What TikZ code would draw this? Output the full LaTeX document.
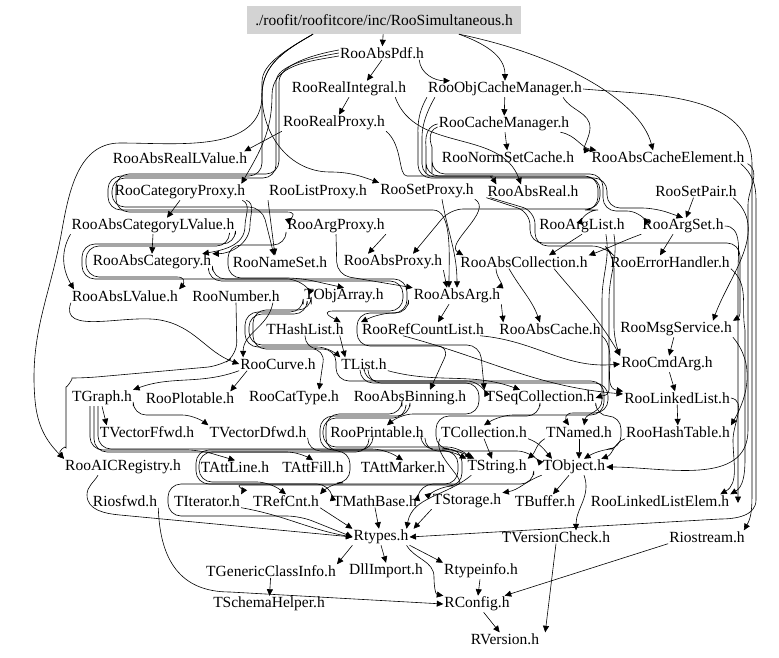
\documentclass[tikz,border=0pt]{standalone}
\usepackage{fontspec}
\newfontfamily\lblfont{Liberation Serif}
\usetikzlibrary{arrows.meta}
\definecolor{boxgray}{RGB}{211,211,211}
\begin{document}
\begin{tikzpicture}[x=1pt,y=-1pt,
  lbl/.style={font=\lblfont\fontsize{15.5}{17}\selectfont, inner sep=1pt, text=black},
  rootbox/.style={lbl, fill=boxgray, minimum width=274pt, minimum height=28pt, inner sep=0pt},
  dep/.style={line width=0.6pt, -{Triangle[length=6.5pt,width=6pt]}},
  rc/.style={rounded corners=13pt}]
\useasboundingbox[fill=white] (0,0) rectangle (779,658);
% ---------- nodes ----------
\node[rootbox] (root) at (384,20) {./roofit/roofitcore/inc/RooSimultaneous.h};
\node[lbl] (pdf) at (382,53) {RooAbsPdf.h};
\node[lbl] (rint) at (349,89) {RooRealIntegral.h};
\node[lbl] (ocm) at (505,89) {RooObjCacheManager.h};
\node[lbl] (rrp) at (334,123) {RooRealProxy.h};
\node[lbl] (cm) at (504,124) {RooCacheManager.h};
\node[lbl] (arlv) at (180,158) {RooAbsRealLValue.h};
\node[lbl] (nsc) at (508,157) {RooNormSetCache.h};
\node[lbl] (ace) at (668,157) {RooAbsCacheElement.h};
\node[lbl] (catp) at (180,192) {RooCategoryProxy.h};
\node[lbl] (lp) at (318,192) {RooListProxy.h};
\node[lbl] (sp) at (427,191) {RooSetProxy.h};
\node[lbl] (ar) at (533,191) {RooAbsReal.h};
\node[lbl] (spair) at (696,191) {RooSetPair.h};
\node[lbl] (aclv) at (153,226) {RooAbsCategoryLValue.h};
\node[lbl] (argp) at (336,226) {RooArgProxy.h};
\node[lbl] (al) at (582,226) {RooArgList.h};
\node[lbl] (as) at (683,226) {RooArgSet.h};
\node[lbl] (acat) at (152,262) {RooAbsCategory.h};
\node[lbl] (ns) at (280,262) {RooNameSet.h};
\node[lbl] (aprox) at (393,262) {RooAbsProxy.h};
\node[lbl] (acoll) at (524,262) {RooAbsCollection.h};
\node[lbl] (eh) at (670,262) {RooErrorHandler.h};
\node[lbl] (alv) at (125,296) {RooAbsLValue.h};
\node[lbl] (num) at (236,296) {RooNumber.h};
\node[lbl] (toa) at (344,296) {TObjArray.h};
\node[lbl] (aarg) at (457,296) {RooAbsArg.h};
\node[lbl] (hl) at (305,329) {THashList.h};
\node[lbl] (rcl) at (423,329) {RooRefCountList.h};
\node[lbl] (acache) at (550,329) {RooAbsCache.h};
\node[lbl] (msg) at (676,329) {RooMsgService.h};
\node[lbl] (curve) at (278,364) {RooCurve.h};
\node[lbl] (tlist) at (364,364) {TList.h};
\node[lbl] (cmd) at (667,364) {RooCmdArg.h};
\node[lbl] (graph) at (102,398) {TGraph.h};
\node[lbl] (plot) at (190,398) {RooPlotable.h};
\node[lbl] (ct) at (294,398) {RooCatType.h};
\node[lbl] (bin) at (410,398) {RooAbsBinning.h};
\node[lbl] (seq) at (540,398) {TSeqCollection.h};
\node[lbl] (ll) at (677,398) {RooLinkedList.h};
\node[lbl] (vf) at (147,432) {TVectorFfwd.h};
\node[lbl] (vd) at (258,432) {TVectorDfwd.h};
\node[lbl] (prt) at (377,432) {RooPrintable.h};
\node[lbl] (coll) at (484,432) {TCollection.h};
\node[lbl] (named) at (579,432) {TNamed.h};
\node[lbl] (ht) at (678,432) {RooHashTable.h};
\node[lbl] (aic) at (123,467) {RooAICRegistry.h};
\node[lbl] (line) at (235,467) {TAttLine.h};
\node[lbl] (fill) at (313,467) {TAttFill.h};
\node[lbl] (marker) at (403,467) {TAttMarker.h};
\node[lbl] (str) at (497,467) {TString.h};
\node[lbl] (obj) at (574,467) {TObject.h};
\node[lbl] (rfwd) at (125,501) {Riosfwd.h};
\node[lbl] (iter) at (207,501) {TIterator.h};
\node[lbl] (rc) at (286,501) {TRefCnt.h};
\node[lbl] (mb) at (375,501) {TMathBase.h};
\node[lbl] (stor) at (467,501) {TStorage.h};
\node[lbl] (buf) at (545,501) {TBuffer.h};
\node[lbl] (lle) at (660,501) {RooLinkedListElem.h};
\node[lbl] (rt) at (381,537) {Rtypes.h};
\node[lbl] (vc) at (556,537) {TVersionCheck.h};
\node[lbl] (rio) at (707,537) {Riostream.h};
\node[lbl] (gci) at (271,571) {TGenericClassInfo.h};
\node[lbl] (dll) at (386,571) {DllImport.h};
\node[lbl] (rti) at (481,571) {Rtypeinfo.h};
\node[lbl] (sh) at (269,604) {TSchemaHelper.h};
\node[lbl] (rcfg) at (477,604) {RConfig.h};
\node[lbl] (rv) at (505,639) {RVersion.h};
\coordinate (tip) at (738,503);
% ---------- top edges ----------
\draw[dep] (root) -- (pdf);
\draw[dep] ([xshift=75pt]root.south) to[out=-20,in=90] (ocm.north);
\draw[dep] ([xshift=75pt]root.south) .. controls (560,55) and (640,100) .. ([xshift=-15pt]ace.north);
\draw[dep] ([xshift=-71pt]root.south) to[out=-150,in=90] (262,95) to[out=-90,in=0] (120,143) to[out=180,in=80] (62,230) to[out=-100,in=95] (35,400) to[out=-85,in=135] (aic.north west);
\draw[dep] ([xshift=-71pt]root.south) to[out=-150,in=90] (262,95) to[out=-90,in=180] (330,172) to[out=0,in=160] (sp.north west);
\draw[dep] ([yshift=-3pt]pdf.west) to[out=190,in=90] (272,95) to[out=-90,in=60] ([xshift=-5pt]catp.north east);
\draw[dep] (pdf.south) -- ([xshift=18pt]rint.north);
\draw[dep] ([xshift=-6pt]pdf.south east) to[out=-85,in=180] ([xshift=-55pt]ocm.north);
\draw[dep] (rint.south) -- ([xshift=5pt]rrp.north);
\draw[dep] (rrp.south west) -- ([xshift=-4pt]arlv.north east);
\draw[dep,rc] (rrp.south east) to[out=-40,in=180] (420,176) -- (480,176) to[out=0,in=120] ([xshift=10pt]ar.north west);
\draw[dep] ([xshift=-12pt]rint.south east) to[out=-70,in=110] ([xshift=-12pt]ar.north);
\draw[dep] (ocm) -- (cm);
\draw[dep] (cm) -- (nsc);
\draw[dep] ([xshift=-20pt]ocm.south east) to[out=-60,in=90] (590,128) to[out=-90,in=180] (ace.north west);
\draw[dep] ([xshift=-10pt]cm.south east) to[out=-10,in=170] ([xshift=6pt]ace.north west);
\draw[dep] (ocm.east) to[out=-5,in=90] (752,165) -- (752,490) to[out=-90,in=60] ([xshift=-2pt]rio.north east);
\draw[dep] ([xshift=-5pt]ace.south east) to[out=-40,in=90] (756,200) -- (756,500) to[out=-90,in=0] (720,519) -- (rt.east);
\draw[dep] ([xshift=2pt]ace.south east) to[out=-30,in=90] (748,205) -- (748,430) to[out=-90,in=0] (obj.east);
\draw[dep] (spair) -- (as);
\draw[dep] ([xshift=-5pt]spair.south east) to[out=-40,in=70] ([xshift=-20pt]msg.north east);
\draw[dep] (as.east) to[out=0,in=90] (738,270) -- (tip);
% ---------- band around row 192 ----------
\draw[dep,rc] ([xshift=-71pt]root.south) to[out=-150,in=90] (262,95) -- (262,176) -- (108,176) -- (108,210) -- (420,210) to[out=0,in=90] ([xshift=-8pt]aarg.north);
\draw[dep,rc] (pdf.west) to[out=190,in=90] (276,95) |- (112,178) |- (262,207) -- ([xshift=-6pt]ns.north);
\draw[dep,rc] ([yshift=3pt]pdf.west) to[out=190,in=90] (279,95) |- (116,174) |- (300,212) -- ([xshift=6pt]argp.north west);
\draw[dep,rc] (cm.west) to[out=190,in=90] (426,160) |- (598,176) |- (585,210) -- (al.north);
\draw[dep,rc] ([yshift=-3pt]cm.west) to[out=200,in=90] (432,160) |- (603,174) |- (640,211) -- ([xshift=3pt]as.north west);
\draw[dep,rc] (ocm.south west) to[out=-120,in=90] (418,150) |- (607,178) |- (655,208) -- (as.north);
\draw[dep,rc] ([xshift=8pt]ocm.south west) to[out=-120,in=90] (422,150) |- (600,177) |- (450,209) -- ([xshift=20pt]aprox.north);
% ---------- band around RooArgList / RooArgSet ----------
\draw[dep,rc] (ar.south west) -- (530,212) -- (530,243) -- (740,243) -- (740,300) to[out=-90,in=30] (msg.north east);
\draw[dep,rc] ([xshift=4pt]ar.south west) -- (535,211) -- (535,246) -- (605,246) -- (614,256) -- (614,340) -- (cmd.north west);
% ---------- band around row 262 ----------
\draw[dep,rc] (aclv.south east) |- (82,244) |- (300,279) -- ([xshift=4pt]toa.north west);
\draw[dep,rc] ([xshift=-6pt]aclv.south east) |- (86,246) |- (190,277) -- (alv.north east);
\draw[dep] (aclv.south) -- (acat.north);
\draw[dep] (aclv.south west) to[out=-120,in=120] ([xshift=3pt]alv.north west);
\draw[dep,rc] (argp.south west) |- (228,245) |- (300,278) -- (toa.north);
\draw[dep] (catp.south) -- ([xshift=14pt]aclv.north);
\draw[dep] (catp.south east) to[out=-20,in=90] (250,225) to[out=-90,in=0] (acat.north east);
\draw[dep] ([xshift=-4pt]catp.south east) to[out=-25,in=90] (245,226) to[out=-90,in=10] ([xshift=-10pt]acat.north east);
% ---------- middle edges ----------
\draw[dep] (lp.south west) -- ([xshift=-5pt]ns.north);
\draw[dep] (argp.south east) -- ([xshift=-25pt]aprox.north);
\draw[dep,rc] (argp.south) -- (337,275) -- (aarg.north west);
\draw[dep] (aprox.south east) -- ([xshift=-10pt]aarg.north);
\draw[dep] ([xshift=15pt]sp.south) to[out=-80,in=90] (aarg.north);
\draw[dep] (sp.south east) to[out=-30,in=150] ([xshift=4pt]acoll.north west);
\draw[dep] (al.south) -- ([xshift=25pt]acoll.north);
\draw[dep] (as.south west) to[out=-160,in=20] (acoll.north east);
\draw[dep] ([xshift=-10pt]as.south) -- ([xshift=-10pt]eh.north);
\draw[dep] ([xshift=-28pt]acoll.south) to[out=-90,in=20] ([xshift=-5pt]aarg.north east);
\draw[dep] ([xshift=-15pt]acoll.south) to[out=-60,in=110] ([xshift=-10pt]acache.north);
\draw[dep] ([xshift=30pt]acoll.south) to[out=-50,in=120] (cmd.north west);
\draw[dep] ([xshift=-8pt]aarg.south) -- ([xshift=15pt]rcl.north);
\draw[dep] (aarg.south east) -- ([xshift=5pt]acache.north west);
\draw[dep] (msg) -- (cmd);
\draw[dep] (cmd) -- (ll);
\draw[dep] (ll) -- (ht);
\draw[dep] (msg.south east) to[out=-50,in=60] (ht.north east);
\draw[dep] (eh.south east) to[out=-40,in=100] (745,330) -- (745,460) to[out=-90,in=30] (lle.north east);
\draw[dep] (acache.south east) to[out=-40,in=170] (ll.north west);
\draw[dep] ([xshift=-20pt]al.south east) to[out=-80,in=90] (602,300) -- (602,400) to[out=-90,in=80] ([xshift=5pt]named.north);
\draw[dep] ([xshift=-12pt]al.south east) to[out=-80,in=90] (609,300) -- (609,390) to[out=-90,in=20] (seq.east);
\draw[dep] ([xshift=-5pt]rcl.south east) to[out=-5,in=185] (cmd.west);
\draw[dep] ([xshift=-20pt]rcl.south) to[out=-15,in=175] ([yshift=4pt]ll.west);
\draw[dep] (ll.east) to[out=-10,in=90] (733,440) to[out=-90,in=30] ([xshift=-10pt]lle.north east);
% ---------- bands around rows 296 / 329 / 364 ----------
\draw[dep,rc] (toa.south west) |- (245,312) |- (330,347) -- (tlist.north west);
\draw[dep,rc] ([xshift=4pt]toa.south west) |- (249,314) |- (480,345) -- (seq.north west);
\draw[dep,rc] ([xshift=8pt]toa.south west) |- (253,310) |- (325,349) -- ([xshift=25pt]ct.north);
\draw[dep,rc] ([xshift=-4pt]aarg.south west) |- (357,313) |- (450,346) -- ([xshift=20pt]bin.north);
\draw[dep,rc] (acat.south east) |- (407,279) |- (380,313) -- (rcl.north west);
\draw[dep,rc] ([xshift=-4pt]acat.south east) |- (403,281) |- (320,311) -- ([xshift=-4pt]hl.north east);
\draw[dep,rc] (hl.south) |- (336,349) |- (480,381) -- (seq.north west);
\draw[dep] ([xshift=-5pt]hl.south east) -- ([xshift=5pt]tlist.north west);
\draw[dep] (tlist.south east) to[out=-15,in=160] ([xshift=-20pt]seq.north);
% ---------- RooCurve / TGraph ----------
\draw[dep] (curve.south west) to[out=-160,in=20] (graph.north east);
\draw[dep] ([xshift=8pt]curve.south west) -- ([xshift=-5pt]plot.north east);
\draw[dep,rc] (num.south) -- (237,355) -- (220,366) -- (85,378) to[out=180,in=90] (66,400) -- (66,435) to[out=-90,in=130] (aic.north west);
\draw[dep] (alv.south west) to[out=-110,in=170] (160,320) to[out=-10,in=160] (curve.west);
\draw[dep] ([xshift=-8pt]num.south east) to[out=-100,in=90] ([xshift=4pt]curve.north west);
\draw[dep] (graph.south) -- ([xshift=8pt]vf.north west);
\draw[dep,rc] (graph.south east) |- (195,415) -- (vd.north west);
\draw[dep,rc] ([xshift=-12pt]graph.south) |- (200,450) -- (line.north);
\draw[dep,rc] ([xshift=-8pt]graph.south) |- (300,452) -- (fill.north);
\draw[dep,rc] ([xshift=-4pt]graph.south) |- (385,449) -- (marker.north);
% ---------- band around row 398 ----------
\draw[dep,rc] (tlist.south) |- (604,381) |- (500,415) -- (coll.north);
\draw[dep,rc] ([xshift=4pt]tlist.south) |- (608,383) |- (560,413) -- ([xshift=-10pt]named.north);
\draw[dep,rc] ([xshift=-4pt]tlist.south) |- (479,383) |- (400,414) -- ([xshift=10pt]prt.north);
% ---------- band around row 432 ----------
\draw[dep,rc] (bin.south) |- (320,416) |- (450,450) -- (str.north west);
\draw[dep,rc] ([xshift=-4pt]bin.south) |- (323,418) |- (460,447) -- ([xshift=5pt]str.north west);
\draw[dep,rc] ([xshift=-8pt]bin.south) |- (326,414) |- (530,451) -- ([xshift=-5pt]obj.north west);
\draw[dep,rc] (seq.south) |- (436,416) |- (455,449) -- ([xshift=8pt]str.north west);
\draw[dep,rc] (seq.south east) |- (621,416) |- (600,449) -- ([xshift=10pt]obj.north);
\draw[dep] (named.south) -- ([xshift=5pt]obj.north);
\draw[dep] (coll.south) -- ([xshift=-5pt]str.north);
\draw[dep] (coll.south east) to[out=-20,in=130] ([xshift=-22pt]obj.north);
\draw[dep] (ht.south west) to[out=-160,in=20] ([xshift=-5pt]obj.north east);
\draw[dep] (named.south west) to[out=-150,in=40] (str.north east);
% ---------- band around row 467 ----------
\draw[dep,rc] ([xshift=-4pt]prt.south) |- (196,450) |- (330,484) -- (mb.north west);
\draw[dep,rc] ([xshift=-8pt]prt.south) |- (199,452) |- (270,482) -- (rc.north);
\draw[dep,rc] (vd.south east) |- (350,451) |- (330,483) -- (rc.north east);
\draw[dep,rc] (prt.south east) |- (458,451) |- (420,484) -- (mb.north east);
\draw[dep,rc] ([xshift=-4pt]prt.south east) |- (462,449) |- (440,486) -- (stor.north west);
\draw[dep,rc] ([xshift=-8pt]obj.south west) |- (168,484) |- (300,516) -- (rt.west);
\draw[dep] (coll.south west) to[out=-120,in=0] (455,485) -- (240,485) to[out=180,in=60] (iter.north east);
% ---------- lower edges ----------
\draw[dep] ([xshift=5pt]str.south west) to[out=-140,in=80] ([xshift=-3pt]rt.north east);
\draw[dep] (stor.south west) -- ([xshift=4pt]rt.north east);
\draw[dep] (mb.south) -- ([xshift=-2pt]rt.north);
\draw[dep] (rc.south east) -- (rt.north west);
\draw[dep] (iter.south east) to[out=-10,in=170] (rt.west);
\draw[dep] ([xshift=-25pt]aic.south) to[out=-120,in=90] (87,495) to[out=-90,in=175] (120,515) -- (rt.west);
\draw[dep] ([xshift=-5pt]obj.south) -- ([xshift=8pt]buf.north);
\draw[dep] (obj.south west) to[out=-160,in=10] (stor.north east);
\draw[dep] ([xshift=10pt]obj.south) to[out=-70,in=90] ([xshift=20pt]vc.north);
\draw[dep] (rt.south west) -- (gci.north east);
\draw[dep] (rt.south) -- (dll.north);
\draw[dep] (rt.south east) -- (rti.north west);
\draw[dep] ([xshift=-3pt]rt.south east) to[out=-60,in=90] (434,577) to[out=-90,in=170] (rcfg.north west);
\draw[dep] (rti) -- (rcfg);
\draw[dep] (rio.south west) -- ([xshift=-6pt]rcfg.north east);
\draw[dep] (vc.south) -- ([xshift=5pt]rv.north east);
\draw[dep] (rcfg) -- (rv);
\draw[dep] (gci) -- (sh);
\draw[dep] (rfwd.south east) .. controls (160,560) and (180,592) .. (230,592) -- (rcfg.west);
\end{tikzpicture}
\end{document}
